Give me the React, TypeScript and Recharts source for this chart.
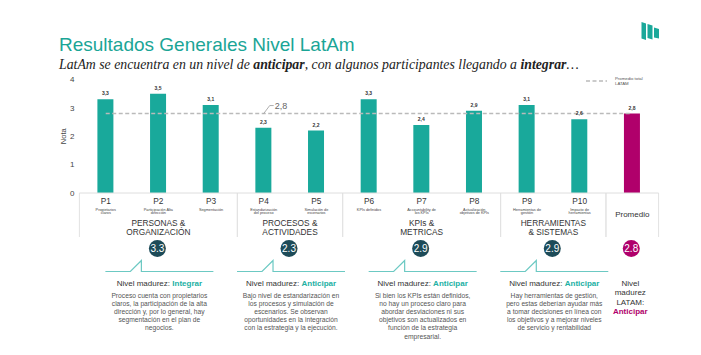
import React from 'react';
import {
  ComposedChart,
  Bar,
  Line,
  XAxis,
  YAxis,
  Cell,
  LabelList,
  ReferenceArea,
  ReferenceDot,
} from 'recharts';

const TEAL = '#19a99b';
const MAGENTA = '#b0006b';
const NAVY = '#1d4b58';
const LINE_TEAL = '#6cc9c3';
const FONT = '"Liberation Sans", Arial, Helvetica, sans-serif';
const SERIF = '"Liberation Serif", "DejaVu Serif", Georgia, serif';

// ---- data ----
const categories = ['P1', 'P2', 'P3', 'P4', 'P5', 'P6', 'P7', 'P8', 'P9', 'P10', 'Promedio'];
const categoryDescriptions: string[][] = [
  ['Propietarios', 'claros'],
  ['Participación Alta', 'dirección'],
  ['Segmentación'],
  ['Estandarización', 'del proceso'],
  ['Simulación de', 'escenarios'],
  ['KPIs definidos'],
  ['Accountability de', 'los KPIs'],
  ['Actualización', 'objetivos de KPIs'],
  ['Herramientas de', 'gestión'],
  ['Impacto de', 'herramientas'],
  [],
];
const notas = [3.3, 3.5, 3.1, 2.3, 2.2, 3.3, 2.4, 2.9, 3.1, 2.6, 2.8];
const promedioTotalLatam = 2.8;
const yTicks = [0, 1, 2, 3, 4];

const groupTitles: string[][] = [
  ['PERSONAS &', 'ORGANIZACIÓN'],
  ['PROCESOS &', 'ACTIVIDADES'],
  ['KPIs &', 'METRICAS'],
  ['HERRAMIENTAS', '& SISTEMAS'],
  [],
];
const groupFirst = ['P1', 'P4', 'P6', 'P9', 'Promedio'];
const groupLast = ['P3', 'P5', 'P8', 'P10', 'Promedio'];
const groupScores = ['3.3', '2.3', '2.9', '2.9', '2.8'];
const groupLevels = ['Integrar', 'Anticipar', 'Anticipar', 'Anticipar', 'Anticipar'];
const groupTexts: string[][] = [
  [
    'Proceso cuenta con propietarios',
    'claros, la participación de la alta',
    'dirección y, por lo general, hay',
    'segmentación en el plan de',
    'negocios.',
  ],
  [
    'Bajo nivel de estandarización en',
    'los procesos y simulación de',
    'escenarios. Se observan',
    'oportunidades en la integración',
    'con la estrategia y la ejecución.',
  ],
  [
    'Si bien los KPIs están definidos,',
    'no hay un proceso claro para',
    'abordar desviaciones ni sus',
    'objetivos son actualizados en',
    'función de la estrategia',
    'empresarial.',
  ],
  [
    'Hay herramientas de gestión,',
    'pero estas deberían ayudar más',
    'a tomar decisiones en línea con',
    'los objetivos y a mejorar niveles',
    'de servicio y rentabilidad',
  ],
  [],
];
const latamSummary = ['Nivel', 'madurez', 'LATAM:'];

const chartData = categories.map((name, i) => ({
  name,
  nota: notas[i],
  latam: promedioTotalLatam,
}));

const fmt = (v: any) => String(v).replace('.', ',');

const CategoryTick = (props: any) => {
  const { x, y, payload } = props;
  const v = payload.value as string;
  const i = categories.indexOf(v);
  if (v === 'Promedio') {
    return (
      <text x={x} y={y + 24} textAnchor="middle" fontSize={8} fill="#333" fontFamily={FONT}>
        {v}
      </text>
    );
  }
  return (
    <g>
      <text x={x} y={y + 10.5} textAnchor="middle" fontSize={8.3} fill="#333" fontFamily={FONT}>
        {v}
      </text>
      {(categoryDescriptions[i] || []).map((d, k) => (
        <text
          key={k}
          x={x}
          y={y + 17.5 + 3.5 * k}
          textAnchor="middle"
          fontSize={3.8}
          fill="#444"
          fontFamily={FONT}
        >
          {d}
        </text>
      ))}
    </g>
  );
};

const GroupShape = (props: any) => {
  const { x, y, width, height, gi } = props;
  const bottom = y + height;
  const cx = x + width / 2;
  const isAvg = gi === 4;
  return (
    <g fontFamily={FONT}>
      <line x1={x} y1={bottom} x2={x} y2={bottom + 44} stroke="#e2e2e2" strokeWidth={1} />
      <line x1={x + width} y1={bottom} x2={x + width} y2={bottom + 44} stroke="#e2e2e2" strokeWidth={1} />
      {groupTitles[gi].map((t, k) => (
        <text key={k} x={cx} y={bottom + 32.8 + 8.8 * k} textAnchor="middle" fontSize={8.3} fill="#333">
          {t}
        </text>
      ))}
      {!isAvg && (
        <polyline
          points={`${cx - 53},${bottom + 78.5} ${cx - 28},${bottom + 78.5} ${cx - 17},${bottom + 67.5} ${cx - 17},${bottom + 78.5} ${cx + 55},${bottom + 78.5}`}
          fill="none"
          stroke={LINE_TEAL}
          strokeWidth={1.2}
        />
      )}
      <circle cx={cx - 1} cy={bottom + 55.5} r={8.5} fill={isAvg ? MAGENTA : NAVY} />
      <text x={cx - 1} y={bottom + 59.1} textAnchor="middle" fontSize={10} fill="#fff">
        {groupScores[gi]}
      </text>
      {!isAvg && (
        <text x={cx + 1} y={bottom + 93} textAnchor="middle" fontSize={8} fill="#333">
          Nivel madurez:{' '}
          <tspan fontWeight="bold" fill="#22b0a3">
            {groupLevels[gi]}
          </tspan>
        </text>
      )}
      {!isAvg &&
        groupTexts[gi].map((t, k) => (
          <text key={k} x={cx + 1} y={bottom + 105 + 8.1 * k} textAnchor="middle" fontSize={6.7} fill="#555">
            {t}
          </text>
        ))}
      {isAvg && (
        <g>
          {latamSummary.map((t, k) => (
            <text key={k} x={cx - 2} y={bottom + 92.5 + 9.65 * k} textAnchor="middle" fontSize={8} fill="#333">
              {t}
            </text>
          ))}
          <text
            x={cx - 2}
            y={bottom + 92.5 + 9.65 * 3}
            textAnchor="middle"
            fontSize={8}
            fontWeight="bold"
            fill={MAGENTA}
          >
            {groupLevels[gi]}
          </text>
        </g>
      )}
    </g>
  );
};

const AvgMarker = (props: any) => {
  const { cx, cy } = props;
  return (
    <g>
      <polyline
        points={`${cx},${cy} ${cx + 6},${cy - 8} ${cx + 10},${cy - 8}`}
        fill="none"
        stroke="#9a9a9a"
        strokeWidth={0.8}
      />
      <text x={cx + 11} y={cy - 4.8} fontSize={9} fill="#666" fontFamily={FONT}>
        {fmt(promedioTotalLatam)}
      </text>
    </g>
  );
};

export default function App() {
  return (
    <div
      style={{
        position: 'absolute',
        left: 0,
        top: 0,
        width: 701,
        height: 355,
        background: '#fff',
        overflow: 'hidden',
      }}
    >
      <ComposedChart
        width={701}
        height={355}
        data={chartData}
        margin={{ top: 79.5, right: 42.4, left: 49.4, bottom: 122 }}
      >
        <XAxis
          dataKey="name"
          height={40}
          interval={0}
          tickSize={0}
          tickMargin={0}
          tickLine={false}
          axisLine={{ stroke: '#dedede' }}
          tick={<CategoryTick />}
        />
        <YAxis
          width={30}
          domain={[0, 4]}
          ticks={yTicks}
          interval={0}
          axisLine={false}
          tickLine={false}
          tickSize={0}
          tickMargin={5}
          tick={{ fontSize: 8, fill: '#444', fontFamily: FONT }}
          label={{
            value: 'Nota',
            angle: -90,
            position: 'insideLeft',
            offset: 14,
            style: { textAnchor: 'middle', fontSize: 7.5, fill: '#444', fontFamily: FONT },
          }}
        />
        {groupFirst.map((g, gi) => (
          <ReferenceArea
            key={g}
            x1={g}
            x2={groupLast[gi]}
            y1={0}
            y2={4}
            shape={(p: any) => <GroupShape {...p} gi={gi} />}
          />
        ))}
        <Bar dataKey="nota" barSize={16} isAnimationActive={false}>
          {chartData.map((d) => (
            <Cell key={d.name} fill={d.name === 'Promedio' ? MAGENTA : TEAL} />
          ))}
          <LabelList
            dataKey="nota"
            position="top"
            offset={4}
            formatter={fmt}
            style={{ fontSize: 5, fontWeight: 'bold', fill: '#333', fontFamily: FONT }}
          />
        </Bar>
        <Line
          dataKey="latam"
          stroke="#bababa"
          strokeWidth={1.5}
          strokeDasharray="4 2.5"
          dot={false}
          activeDot={false}
          isAnimationActive={false}
        />
        <ReferenceDot x="P4" y={promedioTotalLatam} shape={(p: any) => <AvgMarker {...p} />} />
      </ComposedChart>
      <svg
        width={701}
        height={355}
        style={{ position: 'absolute', left: 0, top: 0, pointerEvents: 'none' }}
      >
        <text x={59} y={51} fontSize={19} fill="#1aa596" fontFamily={FONT}>
          Resultados Generales Nivel LatAm
        </text>
        <text x={59} y={69} fontSize={13.8} fontStyle="italic" fill="#222" fontFamily={SERIF}>
          LatAm se encuentra en un nivel de <tspan fontWeight="bold">anticipar</tspan>, con algunos
          participantes llegando a <tspan fontWeight="bold">integrar</tspan>…
        </text>
        <g fill="#1aa89a">
          <polygon points="641.5,22 646,23.5 646,40 641.5,38.5" />
          <polygon points="647.5,24 652.5,25.5 652.5,39.5 647.5,38" />
          <polygon points="654,27.5 659,29 659,38.5 654,37.5" />
        </g>
        <line x1={586} y1={81} x2={607} y2={81} stroke="#bababa" strokeWidth={1.5} strokeDasharray="4 2.5" />
        <text x={615} y={80.3} fontSize={4.3} fill="#555" fontFamily={FONT}>
          Promedio total
        </text>
        <text x={615} y={85.3} fontSize={4.3} fill="#555" fontFamily={FONT}>
          LATAM
        </text>
      </svg>
    </div>
  );
}
